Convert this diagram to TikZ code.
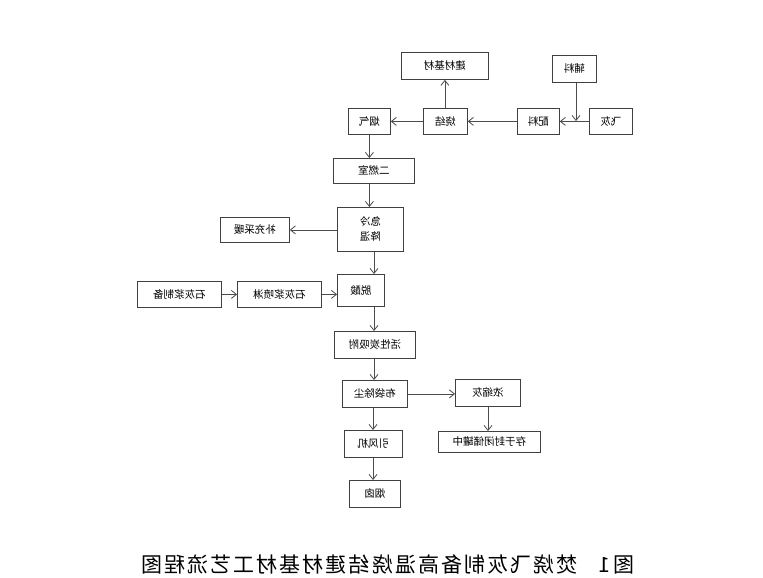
\documentclass[tikz,border=0pt]{standalone}
\usepackage{graphicx}
\usepackage{fontspec}
\newfontfamily\cjk{Noto Sans CJK SC}
\newfontfamily\cjkcap[LetterSpace=10]{Noto Sans CJK SC}
\usetikzlibrary{arrows.meta}
\tikzset{
  box/.style={draw=black!75, line width=0.8pt, fill=white, inner sep=0pt, font=\cjk\fontsize{10.5}{12}\selectfont},
  flow/.style={draw=black!70, line width=0.8pt, -{Straight Barb[length=5pt,width=8pt]}},
}
\newcommand{\mbx}[5]{\node[box, minimum width=#4-#2, minimum height=#5-#3, anchor=north west] (#1) at (#2,#3) {};}
\newcommand{\rtxt}[2]{\node[font=\cjk\fontsize{10.5}{12}\selectfont] at (#1) {\reflectbox{#2}};}
\begin{document}
\begin{tikzpicture}[x=1pt,y=-1pt]
\useasboundingbox[fill=white] (0,0) rectangle (763,578);
% boxes
\mbx{jc}{401}{52}{488}{79}
\mbx{fl}{552}{55}{596}{82}
\mbx{sj}{423}{108}{467}{134}
\mbx{pl}{517}{108}{559}{134}
\mbx{fh}{589}{108}{632}{134}
\mbx{yq}{348}{108}{390}{134}
\mbx{ers}{333}{158}{414}{183}
\mbx{jl}{337}{207}{403}{251}
\mbx{bc}{220}{217}{289}{242}
\mbx{ts}{337}{274}{384}{306}
\mbx{pl2}{237}{281}{321}{307}
\mbx{zb}{137}{281}{221}{307}
\mbx{hx}{334}{331}{415}{358}
\mbx{bd}{342}{380}{407}{407}
\mbx{ns}{455}{379}{520}{406}
\mbx{cy}{438}{431}{540}{452}
\mbx{yf}{344}{430}{402}{457}
\mbx{yc}{349}{480}{400}{507}
% texts (mirrored as in reference)
\rtxt{jc}{建材基材}
\rtxt{fl}{辅料}
\rtxt{sj}{烧结}
\rtxt{pl}{配料}
\rtxt{fh}{飞灰}
\rtxt{yq}{烟气}
\rtxt{ers}{二燃室}
\node[font=\cjk\fontsize{10.5}{15}\selectfont, align=center] at (jl) {\reflectbox{急冷}\\\reflectbox{降温}};
\rtxt{bc}{补充采暖}
\rtxt{ts}{脱酸}
\rtxt{pl2}{石灰浆喷淋}
\rtxt{zb}{石灰浆制备}
\rtxt{hx}{活性炭吸附}
\rtxt{bd}{布袋除尘}
\rtxt{ns}{浓缩灰}
\rtxt{cy}{存于封闭储罐中}
\rtxt{yf}{引风机}
\rtxt{yc}{烟囱}
% connectors
\coordinate (j1) at (576,121);
\draw[flow] (fh.west) -- (pl.east);
\draw[flow] (fl.south -| j1) -- (j1);
\draw[flow] (pl.west) -- (sj.east);
\draw[flow] (sj.west) -- (yq.east);
\draw[flow] (sj.north -| jc.south) -- (jc.south);
\draw[flow] (yq.south) -- (yq.south |- ers.north);
\draw[flow] (ers.south -| yq.south) -- (jl.north -| yq.south);
\draw[flow] (jl.west |- bc.east) -- (bc.east);
\draw[flow] (jl.south -| 374,0) -- (ts.north -| 374,0);
\draw[flow] (zb.east) -- (pl2.west);
\draw[flow] (pl2.east) -- (ts.west |- pl2.east);
\draw[flow] (ts.south -| 374,0) -- (hx.north -| 374,0);
\draw[flow] (hx.south -| 374,0) -- (bd.north -| 374,0);
\draw[flow] (bd.east) -- (ns.west |- bd.east);
\draw[flow] (ns.south -| 488,0) -- (cy.north -| 488,0);
\draw[flow] (bd.south -| 373,0) -- (yf.north -| 373,0);
\draw[flow] (yf.south -| 373,0) -- (yc.north -| 373,0);
% caption
\node[font=\cjkcap\fontsize{21}{23}\selectfont] (cap) at (388,564) {\reflectbox{图\,1\quad 焚烧飞灰制备高温烧结建材基材工艺流程图}};
\end{tikzpicture}
\end{document}
